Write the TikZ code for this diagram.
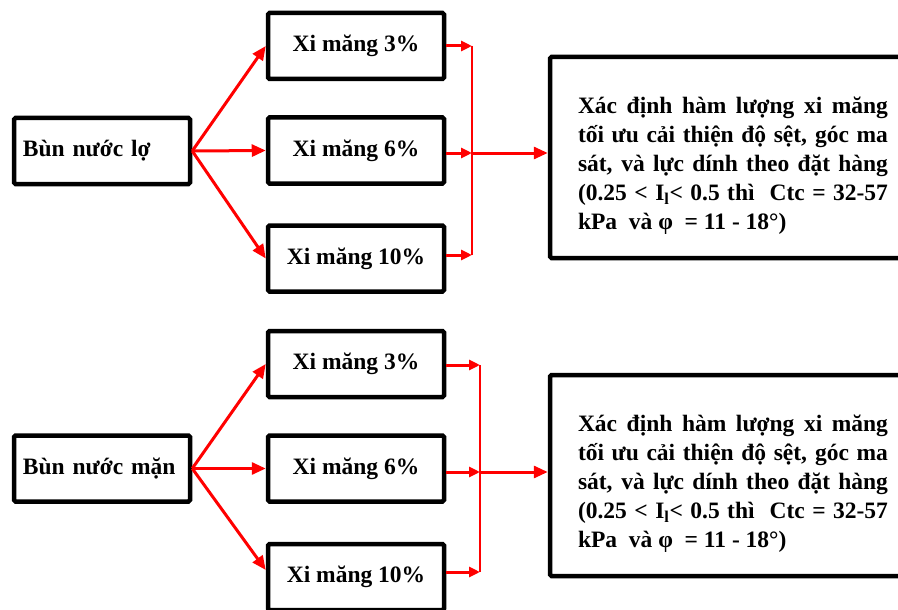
\documentclass[tikz,border=0pt]{standalone}
\usepackage{fontspec}
\setmainfont{Liberation Serif}
\usetikzlibrary{arrows.meta}
\begin{document}
\begin{tikzpicture}[x=1pt,y=-1pt,
  txt/.style={font=\fontsize{23.5}{29}\selectfont\bfseries},
  box/.style={draw=black, line width=4.5pt, rounded corners=1.5pt, txt, inner sep=0pt},
  srcbox/.style={box, text width=158pt, inner xsep=9pt, align=left, minimum height=66pt},
  pctbox/.style={box, minimum width=176pt, minimum height=66pt},
  resbox/.style={box, minimum width=366pt, minimum height=201pt},
  redarrow/.style={draw=red, line width=3pt, -{Triangle[length=14pt,width=12pt]}},
  stub/.style={draw=red, line width=3pt, -{Triangle[length=11pt,width=10pt]}},
  brk/.style={draw=red, line width=2.2pt}]
\useasboundingbox (0,0) rectangle (898,610);

% ---------- top group ----------
\node[srcbox] (s1) at (102,151) {Bùn nước lợ};
\node[pctbox] (a3) at (356,46) {Xi măng 3\%};
\node[pctbox] (a6) at (356,150.5) {Xi măng 6\%};
\node[pctbox] (a10) at (356,258.5) {Xi măng 10\%};
\node[resbox] (r1) at (733,157.5) {\parbox{310pt}{\vspace*{16pt}%
  \makebox[310pt][s]{Xác định hàm lượng xi măng}\\
  \makebox[310pt][s]{tối ưu cải thiện độ sệt, góc ma}\\
  \makebox[310pt][s]{sát, và lực dính theo đặt hàng}\\
  \makebox[310pt][s]{(0.25 < I\textsubscript{l}< 0.5 thì\ \ Ctc = 32-57}\\
  kPa\ \ và φ\ \ = 11 - 18°)}};

\coordinate (b1t) at (472,46);
\coordinate (b1m) at (472,153);
\coordinate (b1b) at (472,255);

\draw[redarrow] (s1.east) -- (a3.west);
\draw[redarrow] (s1.east) -- (a6.west);
\draw[redarrow] (s1.east) -- (a10.west);

\draw[stub] (a3.east |- b1t) -- (b1t);
\draw[stub] (a6.east |- b1m) -- (b1m);
\draw[stub] (a10.east |- b1b) -- (b1b);
\draw[brk] (b1t) -- (b1b);
\draw[redarrow] (b1m) -- (r1.west |- b1m);

% ---------- bottom group ----------
\node[srcbox] (s2) at (102,468.5) {Bùn nước mặn};
\node[pctbox] (c3) at (356,364) {Xi măng 3\%};
\node[pctbox] (c6) at (356,468.5) {Xi măng 6\%};
\node[pctbox] (c10) at (356,577) {Xi măng 10\%};
\node[resbox] (r2) at (733,475.5) {\parbox{310pt}{\vspace*{16pt}%
  \makebox[310pt][s]{Xác định hàm lượng xi măng}\\
  \makebox[310pt][s]{tối ưu cải thiện độ sệt, góc ma}\\
  \makebox[310pt][s]{sát, và lực dính theo đặt hàng}\\
  \makebox[310pt][s]{(0.25 < I\textsubscript{l}< 0.5 thì\ \ Ctc = 32-57}\\
  kPa\ \ và φ\ \ = 11 - 18°)}};

\coordinate (b2t) at (480,365);
\coordinate (b2m) at (480,472);
\coordinate (b2b) at (480,572);

\draw[redarrow] (s2.east) -- (c3.west);
\draw[redarrow] (s2.east) -- (c6.west);
\draw[redarrow] (s2.east) -- ([yshift=7pt]c10.west);

\draw[stub] (c3.east |- b2t) -- (b2t);
\draw[stub] (c6.east |- b2m) -- (b2m);
\draw[stub] (c10.east |- b2b) -- (b2b);
\draw[brk] (b2t) -- (b2b);
\draw[redarrow] (b2m) -- (r2.west |- b2m);
\end{tikzpicture}
\end{document}
